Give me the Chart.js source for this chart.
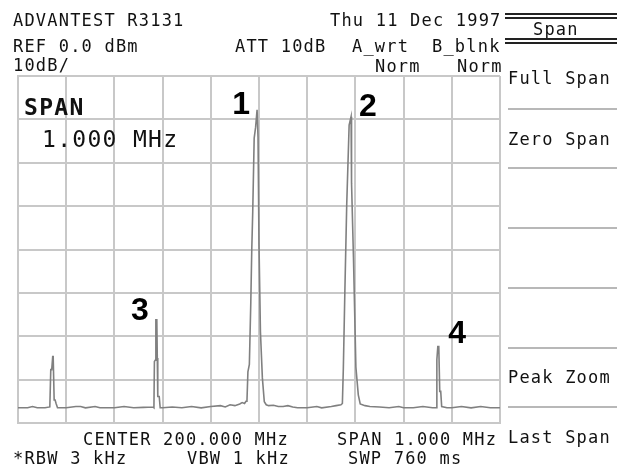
<!DOCTYPE html>
<html>
<head>
<meta charset="utf-8">
<script src="https://cdn.jsdelivr.net/npm/chart.js@4.4.1/dist/chart.umd.min.js"></script>
<style>
  body { margin: 0; background: #fff; }
  #wrap { position: relative; width: 617px; height: 468px; overflow: hidden; }
  canvas { position: absolute; left: 0; top: 0; }
  .t { position: absolute; font: 17px/17px "DejaVu Sans Mono", monospace; letter-spacing: 1.2px; color: #111; white-space: pre; }
  .big { font-size: 23px; line-height: 23px; letter-spacing: 1.3px; }
  .bold { font-weight: bold; }
  .sep { position: absolute; left: 508px; width: 109px; height: 2px; background: #b8b8b8; }
  .dbl { position: absolute; left: 505px; width: 112px; height: 2px; background: #222; }
</style>
</head>
<body>
<div id="wrap">
  <canvas id="myChart" width="617" height="468"></canvas>

  <div class="t" style="left:13px;top:11.6px">ADVANTEST R3131</div>
  <div class="t" style="left:330px;top:11.6px">Thu 11 Dec 1997</div>
  <div class="t" style="left:13px;top:37.6px">REF 0.0 dBm</div>
  <div class="t" style="left:235px;top:37.6px">ATT 10dB</div>
  <div class="t" style="left:352px;top:37.6px">A_wrt</div>
  <div class="t" style="left:432px;top:37.6px">B_blnk</div>
  <div class="t" style="left:13px;top:56.6px">10dB/</div>
  <div class="t" style="left:375px;top:57.6px">Norm</div>
  <div class="t" style="left:457px;top:57.6px">Norm</div>

  <div class="t big bold" style="left:24px;top:95.5px">SPAN</div>
  <div class="t big" style="left:42px;top:127.5px">1.000 MHz</div>

  <div class="t" style="left:83px;top:430.6px">CENTER 200.000 MHz</div>
  <div class="t" style="left:337px;top:430.6px">SPAN 1.000 MHz</div>
  <div class="t" style="left:13px;top:449.6px">*RBW 3 kHz</div>
  <div class="t" style="left:187px;top:449.6px">VBW 1 kHz</div>
  <div class="t" style="left:348px;top:449.6px">SWP 760 ms</div>

  <!-- softkey panel -->
  <div class="dbl" style="top:13px"></div>
  <div class="dbl" style="top:17px"></div>
  <div class="t" style="left:533px;top:20.6px">Span</div>
  <div class="dbl" style="top:38px"></div>
  <div class="dbl" style="top:42px"></div>
  <div class="t" style="left:508px;top:69.6px">Full Span</div>
  <div class="sep" style="top:108px"></div>
  <div class="t" style="left:508px;top:130.6px">Zero Span</div>
  <div class="sep" style="top:167px"></div>
  <div class="sep" style="top:227px"></div>
  <div class="sep" style="top:287px"></div>
  <div class="sep" style="top:347px"></div>
  <div class="t" style="left:508px;top:368.6px">Peak Zoom</div>
  <div class="sep" style="top:406px"></div>
  <div class="t" style="left:508px;top:428.6px">Last Span</div>
</div>

<script>
  // trace: frequency (MHz) and level (dBm)
  const traceFreq = [
    199.500, 199.520, 199.530, 199.540, 199.556, 199.566, 199.568, 199.570, 199.572, 199.573,
    199.575, 199.577, 199.579, 199.582, 199.600, 199.620, 199.630, 199.640, 199.660, 199.670,
    199.700, 199.720, 199.740, 199.760, 199.780, 199.782, 199.783, 199.785, 199.786, 199.788,
    199.789, 199.790, 199.793, 199.795, 199.800, 199.820, 199.840, 199.860, 199.880, 199.900,
    199.920, 199.930, 199.940, 199.950, 199.960, 199.965, 199.970, 199.973, 199.975, 199.977,
    199.980, 199.983, 199.985, 199.987, 199.990, 199.993, 199.996, 199.998, 200.000, 200.003,
    200.007, 200.011, 200.015, 200.020, 200.030, 200.040, 200.050, 200.060, 200.070, 200.080,
    200.100, 200.120, 200.130, 200.150, 200.160, 200.170, 200.173, 200.175, 200.178, 200.182,
    200.187, 200.191, 200.192, 200.196, 200.201, 200.206, 200.210, 200.220, 200.230, 200.250,
    200.270, 200.290, 200.300, 200.320, 200.340, 200.360, 200.368, 200.369, 200.371, 200.373,
    200.375, 200.377, 200.379, 200.390, 200.400, 200.420, 200.440, 200.460, 200.480, 200.500
  ];
  const traceLevel = [
    -76.5, -76.5, -76.2, -76.5, -76.5, -76.3, -67.7, -67.7, -64.7, -64.7,
    -74.7, -74.7, -75.5, -76.5, -76.5, -76.2, -76.2, -76.5, -76.2, -76.5,
    -76.5, -76.2, -76.5, -76.4, -76.3, -76.5, -65.8, -65.5, -56.2, -56.2,
    -65.0, -73.9, -73.9, -76.5, -76.5, -76.3, -76.5, -76.2, -76.5, -76.2,
    -76.0, -76.3, -75.8, -76.0, -75.6, -75.3, -75.5, -75.0, -75.0, -68.2,
    -66.5, -52.1, -40.0, -31.3, -14.3, -11.8, -7.8, -14.1, -38.9, -59.0,
    -69.6, -75.1, -75.8, -76.0, -75.9, -76.2, -76.2, -76.0, -76.3, -76.5,
    -76.5, -76.2, -76.5, -76.2, -76.0, -75.8, -75.5, -67.3, -50.5, -29.7,
    -11.3, -9.4, -24.7, -41.9, -67.1, -73.5, -75.6, -76.0, -76.2, -76.3,
    -76.5, -76.2, -76.5, -76.5, -76.2, -76.5, -76.5, -65.4, -62.4, -62.4,
    -72.7, -72.7, -76.2, -76.5, -76.5, -76.2, -76.5, -76.2, -76.5, -76.5
  ];

  const markerLabels = ['1', '2', '3', '4'];
  const markerFreq = [199.996, 200.191, 199.788, 200.372];
  const markerLevel = [-7.8, -9.4, -56.2, -62.4];

  // label placement next to each peak (pixels)
  const markerOffset = [
    { dx: -7, dy: 4, align: 'right' },
    { dx: 8, dy: -1, align: 'left' },
    { dx: -8, dy: 0, align: 'right' },
    { dx: 10, dy: -4, align: 'left' }
  ];

  const markerPlugin = {
    id: 'markers',
    afterDatasetsDraw(chart) {
      const { ctx, scales } = chart;
      ctx.save();
      ctx.font = 'bold 32px "Liberation Sans", Arial, sans-serif';
      ctx.fillStyle = '#000';
      ctx.textBaseline = 'alphabetic';
      markerLabels.forEach((lab, i) => {
        const x = scales.x.getPixelForValue(markerFreq[i]);
        const y = scales.y.getPixelForValue(markerLevel[i]);
        ctx.textAlign = markerOffset[i].align;
        ctx.fillText(lab, x + markerOffset[i].dx, y + markerOffset[i].dy);
      });
      ctx.restore();
    }
  };

  const ctx = document.getElementById('myChart').getContext('2d');

  const myChart = new Chart(ctx, {
    type: 'line',
    data: {
      datasets: [
        {
          label: 'Trace A',
          data: traceFreq.map((f, i) => ({ x: f, y: traceLevel[i] })),
          borderColor: '#808080',
          borderWidth: 1.6,
          pointRadius: 0,
          fill: false,
          tension: 0
        }
      ]
    },
    options: {
      responsive: false,
      animation: false,
      devicePixelRatio: 1,
      layout: {
        padding: { left: 18, top: 76, right: 117, bottom: 45 }
      },
      plugins: {
        legend: { display: false },
        tooltip: { enabled: false }
      },
      scales: {
        x: {
          type: 'linear',
          min: 199.5,
          max: 200.5,
          ticks: { display: false, stepSize: 0.1 },
          grid: { color: '#c8c8c8', lineWidth: 2, drawTicks: false },
          border: { color: '#c8c8c8', width: 2 }
        },
        y: {
          min: -80,
          max: 0,
          ticks: { display: false, stepSize: 10 },
          grid: { color: '#c8c8c8', lineWidth: 2, drawTicks: false },
          border: { color: '#c8c8c8', width: 2 }
        }
      }
    },
    plugins: [markerPlugin]
  });
</script>
</body>
</html>
